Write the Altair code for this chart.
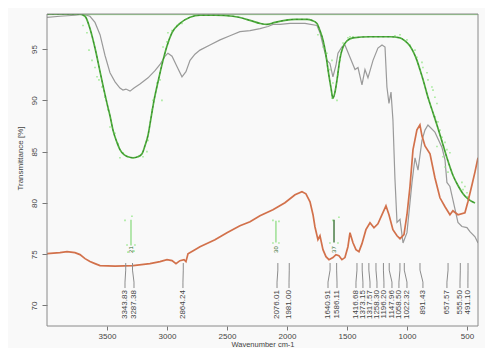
import altair as alt
import pandas as pd

# ---------------- data ----------------
gray_wn = [4000, 3892, 3767, 3700, 3642, 3600, 3558, 3517, 3475, 3433, 3392, 3367, 3342, 3308, 3275,
           3225, 3158, 3100, 3058, 3017, 2992, 2958, 2917, 2875, 2842, 2808, 2767, 2725, 2642, 2558,
           2475, 2392, 2308, 2225, 2158, 2117, 2058, 1975, 1850, 1750, 1725, 1700, 1667, 1642, 1617,
           1592, 1575, 1542, 1517, 1475, 1433, 1408, 1375, 1350, 1325, 1283, 1242, 1208, 1183, 1167,
           1150, 1133, 1117, 1100, 1083, 1058, 1033, 1000, 958, 933, 908, 875, 850, 825, 767,
           708, 683, 667, 642, 617, 575, 542, 500, 475, 433, 408]
gray_t = [98.1, 98.2, 98.3, 98.4, 98.2, 97.6, 96.4, 94.4, 92.7, 91.8, 91.2, 91.0, 91.1, 90.9, 91.2,
          91.6, 92.2, 92.9, 93.5, 94.3, 94.6, 94.3, 93.3, 92.3, 92.8, 93.9, 94.5, 94.9, 95.4, 95.9,
          96.3, 96.7, 96.8, 97.0, 97.2, 97.4, 97.4, 97.5, 97.5, 97.3, 96.6, 95.4, 93.9, 93.6, 92.3,
          93.4, 94.6, 95.2, 95.4, 94.2, 93.0, 93.2, 91.5, 93.0, 92.2, 93.9, 95.1, 95.4, 95.2, 91.3,
          89.7, 90.8, 88.1, 82.3, 78.1, 78.4, 76.1, 77.1, 82.0, 84.4, 83.2, 86.1, 87.1, 87.6, 86.9,
          85.4, 84.2, 82.0, 81.6, 80.3, 78.1, 77.7, 77.6, 77.2, 76.7, 76.1]

green_wn = [4000, 3808, 3725, 3683, 3642, 3600, 3558, 3525, 3500, 3475, 3450, 3417, 3392, 3358, 3325,
            3283, 3242, 3208, 3183, 3158, 3133, 3108, 3075, 3033, 3000, 2958, 2892, 2808, 2725, 2600,
            2450, 2308, 2225, 2167, 2100, 2017, 1933, 1833, 1792, 1750, 1725, 1700, 1675, 1658, 1633,
            1617, 1600, 1583, 1558, 1533, 1500, 1450, 1308, 1142, 1058, 1017, 975, 942, 917, 892,
            858, 825, 792, 750, 708, 667, 617, 575, 533, 492, 433]
green_t = [98.4, 98.4, 98.4, 98.2, 97.0, 95.1, 92.8, 91.0, 89.7, 88.5, 87.1, 85.9, 85.2, 84.7, 84.5,
           84.4, 84.5, 84.8, 85.6, 86.6, 88.3, 90.0, 91.8, 93.9, 95.3, 96.6, 97.5, 98.1, 98.3, 98.3,
           98.2, 97.8, 97.5, 97.4, 97.6, 97.8, 97.9, 97.9, 97.8, 97.5, 96.8, 95.9, 94.4, 93.0, 91.2,
           90.2, 90.8, 92.0, 94.1, 95.2, 95.8, 96.1, 96.2, 96.2, 96.1, 95.8, 95.3, 94.6, 93.9, 93.0,
           91.7, 90.3, 89.1, 87.6, 86.0, 84.4, 82.7, 81.7, 80.9, 80.4, 80.0]

orange_wn = [4000, 3892, 3833, 3767, 3725, 3683, 3642, 3600, 3558, 3433, 3283, 3142, 3058, 3000, 2958,
             2925, 2892, 2858, 2842, 2825, 2767, 2725, 2600, 2500, 2392, 2308, 2225, 2117, 2017, 1933,
             1875, 1842, 1808, 1783, 1767, 1742, 1725, 1700, 1675, 1650, 1617, 1592, 1567, 1542, 1517,
             1492, 1475, 1450, 1425, 1400, 1375, 1342, 1308, 1275, 1242, 1208, 1175, 1150, 1117, 1083,
             1058, 1025, 1000, 975, 950, 917, 892, 875, 850, 808, 767, 725, 683, 642, 617,
             575, 517, 492, 458, 433, 408]
orange_t = [75.05, 75.15, 75.25, 75.15, 74.96, 74.57, 74.28, 74.08, 73.89, 73.84, 73.89, 74.08, 74.28, 74.47, 74.37,
            74.08, 74.37, 74.47, 74.28, 75.05, 75.44, 75.73, 76.41, 77.10, 77.78, 78.17, 78.75, 79.33, 80.02, 80.80,
            81.09, 80.89, 80.11, 78.85, 77.68, 76.42, 76.80, 75.44, 74.76, 74.47, 74.67, 74.96, 74.86, 74.47, 74.67,
            75.73, 77.10, 76.12, 75.44, 75.25, 76.03, 77.39, 78.07, 77.58, 77.97, 78.85, 79.72, 78.85, 77.39, 76.80,
            76.51, 76.90, 78.85, 81.57, 85.17, 87.12, 87.61, 86.54, 85.56, 84.78, 82.45, 80.50, 79.63, 78.85, 79.24,
            78.85, 79.04, 80.11, 81.77, 83.03, 84.40]

dot_wn = [3700, 3667, 3650, 3625, 3600, 3583, 3567, 3542, 3517, 3492, 3475, 3433, 3408, 3392, 3367,
          3200, 3167, 3158, 3125, 3117, 3083, 3058, 3042, 3033, 3000, 2992, 2958, 2917, 2875,
          1742, 1700, 1667, 1625, 1642, 1617, 1625, 1583, 1575, 1558, 1542, 1533, 1492, 1475, 1450,
          1100, 1058, 1000, 975, 933, 917, 875, 867, 833, 825, 792, 783, 767, 750,
          767, 742, 725, 708, 750, 683, 667, 642, 700, 683, 658, 542, 517, 533, 500, 492,
          3350, 3292, 3333, 3267, 3325, 3275, 2117, 2067, 2117, 2067, 1617, 1567, 1642, 1575]
dot_t = [97.3, 96.6, 94.9, 93.9, 93.2, 92.3, 92.0, 91.3, 90.3, 89.1, 87.4, 86.8, 85.8, 84.4, 84.9,
         84.5, 85.0, 86.1, 89.1, 90.0, 91.7, 92.0, 90.0, 95.2, 95.7, 96.6, 96.8, 97.3, 97.5,
         96.4, 95.2, 94.6, 93.9, 93.0, 91.7, 90.2, 90.0, 92.5, 93.9, 94.9, 95.6, 96.1, 96.2, 96.2,
         96.3, 96.4, 95.9, 95.4, 94.9, 94.2, 93.7, 93.2, 92.7, 92.0, 91.3, 91.0, 90.3, 89.7,
         88.4, 87.9, 87.1, 86.4, 85.5, 85.9, 85.2, 84.9, 84.5, 83.5, 83.0, 82.0, 81.6, 81.3, 81.0, 80.6,
         78.3, 78.7, 75.9, 75.9, 75.2, 75.3, 78.3, 78.2, 76.1, 76.1, 78.3, 78.6, 76.1, 76.1]

peak_labels = ["3343.83", "3287.38", "2864.24", "2076.01", "1981.00", "1640.91", "1586.11",
               "1416.68", "1373.15", "1317.57", "1258.30", "1196.20", "1147.96", "1058.50",
               "1022.32", "891.43", "657.57", "555.50", "491.10"]
peak_wn = [3343.83, 3287.38, 2864.24, 2076.01, 1981.00, 1640.91, 1586.11, 1416.68, 1373.15,
           1317.57, 1258.30, 1196.20, 1147.96, 1058.50, 1022.32, 891.43, 657.57, 555.50, 491.10]
peak_label_wn = [3350, 3275, 2867, 2083, 1983, 1658, 1583, 1425, 1367, 1308, 1250, 1192, 1125,
                 1067, 1000, 867, 667, 558, 492]
leader_t = [74.14, 73.45, 72.28, 71.7]
label_t = 71.5

marker_labels = ["21", "30", "37"]
marker_wn = [3300, 2092, 1608]
marker_top = [78.36, 78.26, 78.36]
marker_bottom = [75.84, 76.14, 76.14]
marker_line_colors = ["#8fdc84", "#8fdc84", "#2f6a2a"]
marker_text_t = 75.45

top_line_t = 98.36

x_ticks = [3500, 3000, 2500, 2000, 1500, 1000, 500]
y_ticks = [70, 75, 80, 85, 90, 95]

# ---------------- build tables ----------------
gray_df = pd.DataFrame({"wn": gray_wn, "T": gray_t})
green_df = pd.DataFrame({"wn": green_wn, "T": green_t})
orange_df = pd.DataFrame({"wn": orange_wn, "T": orange_t})
dots_df = pd.DataFrame({"wn": dot_wn, "T": dot_t})

rows = []
for lab, w, lw in zip(peak_labels, peak_wn, peak_label_wn):
    for k, (px, pt) in enumerate(zip([w, w, lw, lw], leader_t)):
        rows.append({"peak": lab, "k": k, "wn": px, "T": pt})
leader_df = pd.DataFrame(rows)
label_df = pd.DataFrame({"peak": peak_labels, "wn": peak_label_wn, "T": [label_t] * len(peak_labels)})

marker_df = pd.DataFrame({"lab": marker_labels, "wn": marker_wn, "T": marker_top,
                          "bottom": marker_bottom, "col": marker_line_colors})
marker_txt_df = pd.DataFrame({"lab": marker_labels, "wn": marker_wn, "T": [marker_text_t] * 3})
top_df = pd.DataFrame({"T": [top_line_t]})
frame_df = pd.DataFrame({"f": [0]})

FONT = "Liberation Sans"
W, H = 431, 312
xscale = alt.Scale(domain=[408, 4000], reverse=True, nice=False, zero=False)
yscale = alt.Scale(domain=[68.0, 98.42], nice=False, zero=False)

xaxis = alt.Axis(values=x_ticks, format="d", title="Wavenumber cm-1", grid=False, domain=False,
                 tickSize=4, tickColor="#777", labelColor="#444", labelFontSize=8,
                 labelPadding=2, labelFont=FONT, titleFont=FONT, titleFontSize=7.5,
                 titleFontWeight="normal", titleColor="#444", titleY=20,
                 titleBaseline="alphabetic", labelFlush=False)
yaxis = alt.Axis(values=y_ticks, format="d", title="Transmittance [%]", grid=False, domain=False,
                 tickSize=5, tickColor="#777", labelColor="#444", labelFontSize=8,
                 labelAngle=270, labelAlign="center", labelBaseline="bottom",
                 labelPadding=4, labelFont=FONT, titleFont=FONT, titleFontSize=8,
                 titleFontWeight="normal", titleColor="#444", titleAngle=270,
                 titleBaseline="middle", titleX=-27, titleY=144, labelFlush=False)
X = alt.X("wn:Q", scale=xscale, axis=xaxis, title="Wavenumber cm-1")
Y = alt.Y("T:Q", scale=yscale, axis=yaxis, title="Transmittance [%]")
ORD = alt.Order("wn:Q", sort="descending")

frame = alt.Chart(frame_df).mark_rect(filled=False, stroke="#8a8a8a", strokeWidth=1).encode(
    x=alt.value(0), x2=alt.value(W), y=alt.value(0), y2=alt.value(H))

top_line = alt.Chart(top_df).mark_rule(color="#8ad97c", strokeWidth=1).encode(y=Y)

gray = alt.Chart(gray_df).mark_line(color="#9a9a9a", strokeWidth=1.2, clip=True).encode(x=X, y=Y, order=ORD)

dots = alt.Chart(dots_df).mark_square(color="#9be88f", size=2.5, opacity=0.9, clip=True).encode(x=X, y=Y)

green = alt.Chart(green_df).mark_line(color="#4fae3d", strokeWidth=1.7, interpolate="monotone",
                                      clip=True).encode(x=X, y=Y, order=ORD)
green_core = alt.Chart(green_df).mark_line(color="#2f7a26", strokeWidth=0.7, strokeDash=[2, 3],
                                           interpolate="monotone", clip=True).encode(x=X, y=Y, order=ORD)

orange = alt.Chart(orange_df).mark_line(color="#d2714b", strokeWidth=1.7, clip=True).encode(x=X, y=Y, order=ORD)

leaders = alt.Chart(leader_df).mark_line(color="#8c8c8c", strokeWidth=1).encode(
    x=X, y=Y, detail="peak:N", order="k:Q")

labels = alt.Chart(label_df).mark_text(angle=270, align="right", baseline="middle", fontSize=8,
                                       font=FONT, color="#444").encode(x=X, y=Y, text="peak:N")

marker_lines = alt.Chart(marker_df).mark_rule(strokeWidth=1.3).encode(
    x=X, y=Y, y2="bottom:Q", color=alt.Color("col:N", scale=None))
marker_text = alt.Chart(marker_txt_df).mark_text(angle=270, align="center", baseline="middle", fontSize=6,
                                                 font=FONT, color="#2f6a2a").encode(x=X, y=Y, text="lab:N")

chart = alt.layer(gray, top_line, dots, green, green_core, orange, leaders, labels,
                  marker_lines, marker_text, frame).properties(
    width=W, height=H,
    autosize=alt.AutoSizeParams(type="none"),
    padding={"left": 39, "top": 6, "right": 7, "bottom": 22},
    background="#f9f9f9",
).configure_view(strokeWidth=0, fill="#f9f9f9")

chart.save("out.html", embed_options={"renderer": "svg", "actions": False})
